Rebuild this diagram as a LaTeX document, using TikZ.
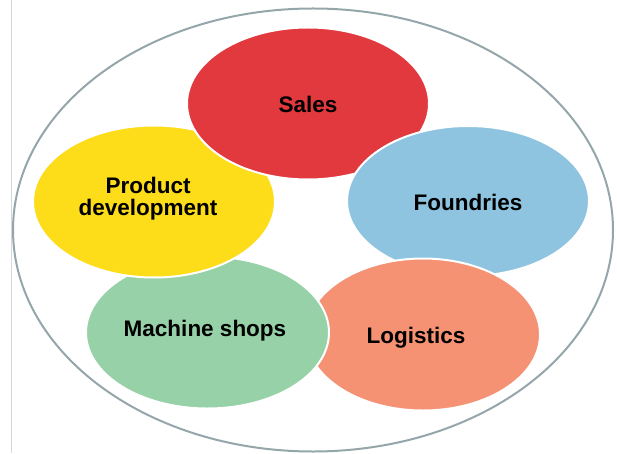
\documentclass[tikz,border=0pt]{standalone}
\usepackage{fontspec}
\setmainfont{Liberation Sans}
\usetikzlibrary{shapes.geometric}
\definecolor{salesred}{HTML}{E2393F}
\definecolor{foundblue}{HTML}{8EC4E0}
\definecolor{prodyellow}{HTML}{FDDC1A}
\definecolor{machgreen}{HTML}{97D1A8}
\definecolor{logsalmon}{HTML}{F59274}
\definecolor{rimgrey}{HTML}{95A6AB}
\definecolor{edgegrey}{HTML}{D3D8DA}

\begin{document}
\begin{tikzpicture}[
    x=1pt, y=-1pt,
    blob/.style={%
      ellipse,
      draw=white,
      line width=2pt,
      minimum width=242pt,
      minimum height=152pt,
      inner sep=0pt,
    },
    word/.style={%
      align=center,
      inner sep=0pt,
      font=\fontsize{22.5}{22}\selectfont\bfseries,
    },
  ]
    \useasboundingbox (0,0) rectangle (617,454);

    \draw [edgegrey, line width=0.7pt] (11.5,0) -- (11.5,453);
    \node [ellipse, draw=rimgrey, line width=2pt, minimum width=600pt,
      minimum height=443pt, inner sep=0pt] (rim) at (313,230) {};

    \node [blob, fill=machgreen, minimum width=243pt] (mach) at (207.5,332.5) {};
    \node [blob, fill=prodyellow] (prod) at (154,201.5) {};
    \node [blob, fill=salesred] (sales) at (308,103.5) {};
    \node [blob, fill=foundblue, minimum height=150pt] (found) at (468,201) {};
    \node [blob, fill=logsalmon, minimum width=234pt] (logi) at (423,334.5) {};

    % green lies over salmon
    \begin{scope}
      \clip (298,250) rectangle (345,420);
      \path [fill=machgreen, draw=white, line width=2pt]
        (mach.center) ellipse [x radius=121.5, y radius=76];
    \end{scope}

    \node [word] (salestext) at (308,104) {Sales};
    \node [word] (foundtext) at (468,202) {Foundries};
    \node [word] (prodtext) at (148,199) {Product\\development};
    \node [word] (machtext) at (205,331) {Machine shops};
    \node [word] (logitext) at (416,338) {Logistics};
\end{tikzpicture}
\end{document}
